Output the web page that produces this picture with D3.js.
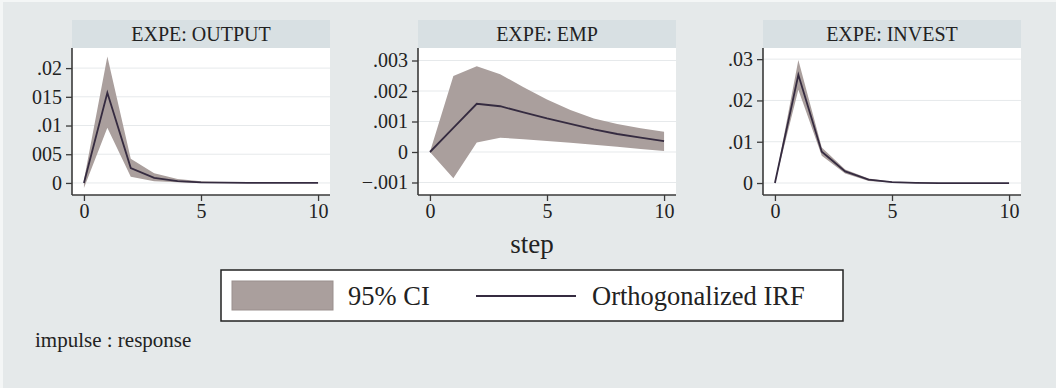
<!DOCTYPE html>
<html>
<head>
<meta charset="utf-8">
<script src="https://cdn.jsdelivr.net/npm/d3@7"></script>
<style>
  body { margin: 0; background: #e5e9ea; }
  svg { display: block; font-family: "Liberation Serif", "DejaVu Serif", serif; }
</style>
</head>
<body>
<svg id="chart" width="1056" height="388"></svg>
<script>
// steps 0..10
var steps = [0, 1, 2, 3, 4, 5, 6, 7, 8, 9, 10];

// EXPE: OUTPUT
var outIrf   = [0, 0.0157, 0.0026, 0.0009, 0.0003, 0.0001, 0.00005, 0.00002, 0, 0, 0];
var outLower = [-0.0009, 0.0096, 0.0011, 0.0003, 0.0001, 0, 0, 0, 0, 0, 0];
var outUpper = [0.0005, 0.0220, 0.0042, 0.0017, 0.0007, 0.0003, 0.00015, 0.00008, 0.00004, 0.00002, 0.00001];

// EXPE: EMP
var empIrf   = [0, 0.00079, 0.00158, 0.00150, 0.00130, 0.00110, 0.00092, 0.00074, 0.00059, 0.00047, 0.00036];
var empLower = [0, -0.00086, 0.00031, 0.00047, 0.00042, 0.00036, 0.00030, 0.00024, 0.00017, 0.00010, 0.00003];
var empUpper = [0, 0.00249, 0.00281, 0.00255, 0.00212, 0.00172, 0.00138, 0.00110, 0.00092, 0.00078, 0.00066];

// EXPE: INVEST
var invIrf   = [0, 0.0262, 0.0076, 0.0028, 0.0008, 0.0002, 0.00005, 0, 0, 0, 0];
var invLower = [0, 0.0226, 0.0066, 0.0023, 0.0005, 0.0001, 0, 0, 0, 0, 0];
var invUpper = [0, 0.0298, 0.0086, 0.0033, 0.0011, 0.0003, 0.0001, 0.00003, 0, 0, 0];

var panelTitles = ["EXPE: OUTPUT", "EXPE: EMP", "EXPE: INVEST"];
var yTicks = [
  [0, 0.005, 0.01, 0.015, 0.02],
  [-0.001, 0, 0.001, 0.002, 0.003],
  [0, 0.01, 0.02, 0.03]
];
var yTickLabels = [
  ["0", "005", ".01", "015", ".02"],
  ["\u2212.001", "0", ".001", ".002", ".003"],
  ["0", ".01", ".02", ".03"]
];
var yDomains = [[-0.0021, 0.0235], [-0.00141, 0.00341], [-0.0029, 0.0327]];
var xTicks = [0, 5, 10];
var legendLabels = ["95% CI", "Orthogonalized IRF"];

var ciColor = "#aa9f9d", lineColor = "#352b40", axisColor = "#3a3a3a";

var series = [
  {irf: outIrf, lo: outLower, hi: outUpper},
  {irf: empIrf, lo: empLower, hi: empUpper},
  {irf: invIrf, lo: invLower, hi: invUpper}
];

var svg = d3.select("#chart");

// background with the thin light edge seen on the reference
svg.append("rect").attr("x", 0).attr("y", 0).attr("width", 1056).attr("height", 388).attr("fill", "#e5e9ea");
svg.append("rect").attr("x", 0).attr("y", 0).attr("width", 1056).attr("height", 2).attr("fill", "#f4f6f6");
svg.append("rect").attr("x", 0).attr("y", 0).attr("width", 3).attr("height", 388).attr("fill", "#f4f6f6");

var panelLeft = [72, 418, 763];
var panelW = 258, headTop = 20, plotTop = 48, plotBottom = 195;

panelTitles.forEach(function(title, i) {
  var g = svg.append("g").attr("transform", "translate(" + panelLeft[i] + ",0)");
  var s = series[i];

  var x = d3.scaleLinear().domain([-0.51, 10.51]).range([0, panelW]);
  var y = d3.scaleLinear().domain(yDomains[i]).range([plotBottom, plotTop]);

  // header strip
  g.append("rect")
    .attr("x", 0).attr("y", headTop)
    .attr("width", panelW).attr("height", plotTop - headTop)
    .attr("fill", "#d8e0e3");
  g.append("text")
    .attr("x", panelW / 2).attr("y", 41)
    .attr("text-anchor", "middle")
    .style("font-size", "20px")
    .style("fill", "#222")
    .text(title);

  // plot region
  g.append("rect")
    .attr("x", 0).attr("y", plotTop)
    .attr("width", panelW).attr("height", plotBottom - plotTop)
    .attr("fill", "white");

  // gridlines
  g.append("g").selectAll("line")
    .data(yTicks[i])
    .enter().append("line")
      .attr("x1", 0).attr("x2", panelW)
      .attr("y1", function(d) { return y(d); })
      .attr("y2", function(d) { return y(d); })
      .attr("stroke", "#e6e9eb")
      .attr("stroke-width", 1);

  // CI band
  g.append("path")
    .datum(steps)
    .attr("fill", ciColor)
    .attr("d", d3.area()
      .x(function(d) { return x(d); })
      .y0(function(d) { return y(s.lo[d]); })
      .y1(function(d) { return y(s.hi[d]); })
    );

  // IRF line
  g.append("path")
    .datum(steps)
    .attr("fill", "none")
    .attr("stroke", lineColor)
    .attr("stroke-width", 1.8)
    .attr("d", d3.line()
      .x(function(d) { return x(d); })
      .y(function(d) { return y(s.irf[d]); })
    );

  // axes
  var yAxis = d3.axisLeft(y)
    .tickValues(yTicks[i])
    .tickFormat(function(d, k) { return yTickLabels[i][k]; })
    .tickSize(6).tickSizeOuter(0).tickPadding(4);
  var ya = g.append("g").call(yAxis);
  ya.select(".domain").attr("stroke", axisColor).attr("stroke-width", 1.6)
    .attr("d", "M0," + plotTop + "V" + plotBottom);
  ya.selectAll(".tick line").attr("stroke", axisColor).attr("stroke-width", 1.3);
  ya.selectAll("text")
    .style("font-family", "Liberation Serif, serif")
    .style("font-size", "20px").style("fill", "#222");

  var xAxis = d3.axisBottom(x).tickValues(xTicks).tickSize(6).tickSizeOuter(0).tickPadding(3);
  var xa = g.append("g").attr("transform", "translate(0," + plotBottom + ")").call(xAxis);
  xa.select(".domain").attr("stroke", axisColor).attr("stroke-width", 1.6)
    .attr("d", "M0,0H" + panelW);
  xa.selectAll(".tick line").attr("stroke", axisColor).attr("stroke-width", 1.3);
  xa.selectAll("text")
    .style("font-family", "Liberation Serif, serif")
    .style("font-size", "20px").style("fill", "#222");
});

// x title
svg.append("text")
  .attr("x", 532).attr("y", 253)
  .attr("text-anchor", "middle")
  .style("font-size", "27px").style("fill", "#222")
  .text("step");

// legend
var leg = svg.append("g");
leg.append("rect")
  .attr("x", 221).attr("y", 270).attr("width", 622).attr("height", 51)
  .attr("fill", "white").attr("stroke", "#222").attr("stroke-width", 1.5);
leg.append("rect")
  .attr("x", 232).attr("y", 281).attr("width", 101).attr("height", 29)
  .attr("fill", ciColor).attr("stroke", "#9a8f8d").attr("stroke-width", 1);
leg.append("text")
  .attr("x", 348).attr("y", 305)
  .style("font-size", "26.5px").style("fill", "#222")
  .text(legendLabels[0]);
leg.append("line")
  .attr("x1", 476).attr("x2", 576).attr("y1", 296).attr("y2", 296)
  .attr("stroke", lineColor).attr("stroke-width", 2);
leg.append("text")
  .attr("x", 592).attr("y", 305)
  .style("font-size", "26.5px").style("fill", "#222")
  .text(legendLabels[1]);

// note
svg.append("text")
  .attr("x", 35).attr("y", 347)
  .style("font-size", "21px").style("fill", "#222")
  .text("impulse : response");
</script>
</body>
</html>
